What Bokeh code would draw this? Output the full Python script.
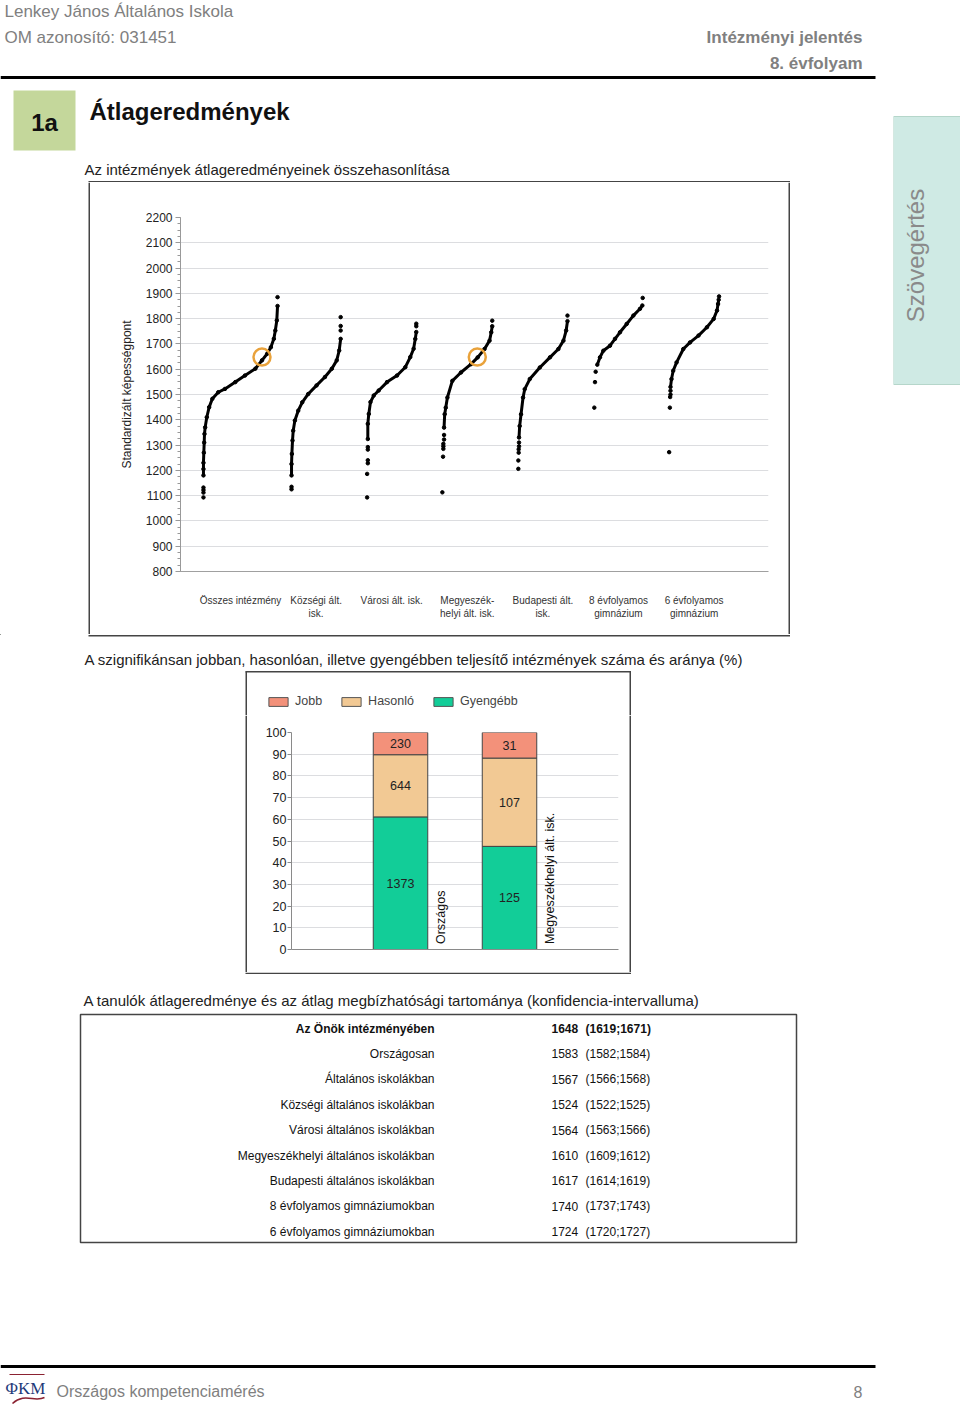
import math
from bokeh.plotting import figure
from bokeh.models import (Range1d, SingleIntervalTicker, FixedTicker, Legend, LegendItem, ColumnDataSource)
from bokeh.layouts import column, row
from bokeh.embed import file_html
from bokeh.resources import INLINE
from bokeh.core.properties import value

FONT = "Liberation Sans"

# ---------------- texts ----------------
school_name = "Lenkey János Általános Iskola"
om_id = "OM azonosító: 031451"
report_name = "Intézményi jelentés"
grade = "8. évfolyam"
section_no = "1a"
section_title = "Átlageredmények"
sub1 = "Az intézmények átlageredményeinek összehasonlítása"
sub2 = "A szignifikánsan jobban, hasonlóan, illetve gyengébben teljesítő intézmények száma és aránya (%)"
sub3 = "A tanulók átlageredménye és az átlag megbízhatósági tartománya (konfidencia-intervalluma)"
footer_text = "Országos kompetenciamérés"
logo_text = "ΦKM"
page_no = "8"
side_tab = "Szövegértés"

# ---------------- scatter data (rank fraction within group, score) ----------------
groups = ["Összes intézmény", "Községi ált.\nisk.", "Városi ált. isk.", "Megyeszék-\nhelyi ált. isk.",
          "Budapesti ált.\nisk.", "8 évfolyamos\ngimnázium", "6 évfolyamos\ngimnázium"]
y_axis_title = "Standardizált képességpont"

osszes_curve = [(0.0, 1180), (0.0, 1205), (0.0, 1230), (0.005, 1270), (0.01, 1310), (0.014, 1344),
                (0.023, 1370), (0.045, 1410), (0.077, 1450), (0.12, 1483), (0.2, 1509), (0.29, 1522),
                (0.43, 1549), (0.56, 1575), (0.7, 1602), (0.79, 1635), (0.86, 1661), (0.91, 1687),
                (0.95, 1720), (0.97, 1753), (0.99, 1793), (1.0, 1850)]
osszes_out = [(0.0, 1093), (0.0, 1112), (0.0, 1122), (0.0, 1132), (1.0, 1885)]

kozsegi_curve = [(0.0, 1180), (0.0, 1225), (0.007, 1265), (0.02, 1318), (0.034, 1357), (0.068, 1397),
                 (0.136, 1436), (0.218, 1469), (0.34, 1502), (0.51, 1536), (0.68, 1569), (0.82, 1602),
                 (0.92, 1635), (0.97, 1674), (1.0, 1720)]
kozsegi_out = [(0.0, 1125), (0.0, 1135), (1.0, 1753), (1.0, 1771), (1.0, 1806)]

varosi_curve = [(0.014, 1324), (0.014, 1384), (0.034, 1423), (0.068, 1470), (0.135, 1496), (0.236, 1516),
                (0.405, 1549), (0.608, 1575), (0.777, 1608), (0.878, 1648), (0.946, 1681), (0.98, 1720),
                (1.0, 1747)]
varosi_out = [(0.0, 1093), (0.0, 1186), (0.014, 1228), (0.014, 1240), (0.014, 1282), (0.014, 1292),
              (1.0, 1770), (1.0, 1780)]

megyei_curve = [(0.034, 1369), (0.047, 1422), (0.068, 1448), (0.101, 1488), (0.2, 1554), (0.372, 1587),
                (0.574, 1620), (0.709, 1647), (0.845, 1680), (0.946, 1713), (0.98, 1746), (1.0, 1770)]
megyei_out = [(0.0, 1113), (0.014, 1254), (0.02, 1285), (0.02, 1295), (0.02, 1305), (0.034, 1322),
              (0.034, 1340), (1.0, 1792)]

budapest_curve = [(0.014, 1330), (0.027, 1375), (0.055, 1422), (0.096, 1488), (0.13, 1521), (0.233, 1561),
                  (0.438, 1607), (0.644, 1647), (0.815, 1680), (0.918, 1713), (0.973, 1753), (1.0, 1790)]
budapest_out = [(0.0, 1206), (0.0, 1239), (0.007, 1270), (0.007, 1283), (0.014, 1295), (0.014, 1310),
                (1.0, 1812)]

gimn8_curve = [(0.062, 1618), (0.117, 1647), (0.186, 1673), (0.324, 1693), (0.428, 1720), (0.531, 1746),
               (0.669, 1779), (0.807, 1812), (0.945, 1839), (0.993, 1852)]
gimn8_out = [(0.0, 1448), (0.014, 1549), (0.028, 1590), (1.0, 1882)]

gimn6_curve = [(0.027, 1530), (0.047, 1561), (0.081, 1594), (0.149, 1627), (0.284, 1680), (0.419, 1706),
               (0.588, 1733), (0.757, 1766), (0.892, 1799), (0.959, 1832), (0.98, 1858), (0.993, 1875)]
gimn6_out = [(0.0, 1272), (0.014, 1448), (0.02, 1490), (0.027, 1500), (0.027, 1515), (1.0, 1888)]

school_groups = [0, 3]
school_ranks = [0.79, 0.70]
school_score = 1648

# ---------------- bar data ----------------
bar_cats = ["Országos", "Megyeszékhelyi ált. isk."]
legend_names = ["Jobb", "Hasonló", "Gyengébb"]
jobb = [230, 31]
hasonlo = [644, 107]
gyengebb = [1373, 125]

# ---------------- table data ----------------
tbl_labels = ["Az Önök intézményében", "Országosan", "Általános iskolákban", "Községi általános iskolákban",
              "Városi általános iskolákban", "Megyeszékhelyi általános iskolákban",
              "Budapesti általános iskolákban", "8 évfolyamos gimnáziumokban", "6 évfolyamos gimnáziumokban"]
tbl_mean = [1648, 1583, 1567, 1524, 1564, 1610, 1617, 1740, 1724]
tbl_lo = [1619, 1582, 1566, 1522, 1563, 1609, 1614, 1737, 1720]
tbl_hi = [1671, 1584, 1568, 1525, 1566, 1612, 1619, 1743, 1727]

# ---------------- styles ----------------
GROUP_SPREAD = [0.98, 0.65, 0.65, 0.66, 0.65, 0.64, 0.66]
C_JOBB = "#f3917a"
C_HAS = "#f2c994"
C_GY = "#12cd98"
GRAY_TXT = "#808080"
BOX_C = "#444444"
BOX_W = 1.5
LEFT_W = 893
RIGHT_W = 67


def page(width, height, x0, y0):
    p = figure(width=width, height=height, x_range=Range1d(x0, x0 + width),
               y_range=Range1d(y0 + height, y0), x_axis_location=None, y_axis_location=None,
               output_backend="svg", toolbar_location=None, min_border=0, frame_align=False)
    p.outline_line_color = None
    p.grid.visible = False
    return p


def put(p, x, y, s, size, color="#222222", bold=False, align="left", angle=0.0, font=FONT):
    p.text(x=[x], y=[y], text=[s], angle=angle, text_font=value(font), text_font_size=f"{size}px",
           text_color=color, text_font_style="bold" if bold else "normal",
           text_align=align, text_baseline="middle")


def hline(p, x0, x1, y, w=BOX_W, c=BOX_C):
    p.line(x=[x0, x1], y=[y, y], line_width=w, line_color=c)


def vline(p, x, y0, y1, w=BOX_W, c=BOX_C):
    p.line(x=[x, x], y=[y0, y1], line_width=w, line_color=c)


# ---------------- header ----------------
hdr = page(LEFT_W, 182, 0, 0)
put(hdr, 4, 11, school_name, 17, GRAY_TXT)
put(hdr, 4, 37, om_id, 17, GRAY_TXT)
put(hdr, 862, 37, report_name, 17, GRAY_TXT, bold=True, align="right")
put(hdr, 862, 63, grade, 17, GRAY_TXT, bold=True, align="right")
hline(hdr, 0, 875, 77, w=3, c="black")
hdr.quad(left=13, right=75, top=90, bottom=150, fill_color="#c4d79b", line_color=None)
put(hdr, 44, 122, section_no, 24, "#111111", bold=True, align="center")
put(hdr, 89, 111, section_title, 24, "#111111", bold=True)
put(hdr, 84, 169, sub1, 15, "#222222")
hline(hdr, 88, 789.5, 181.25)

# ---------------- scatter ----------------
px_per_unit = 75.6
x_lo = -60 / px_per_unit
x_hi = x_lo + 588 / px_per_unit
sc = figure(width=697, height=452, x_range=Range1d(x_lo, x_hi), y_range=Range1d(800, 2200),
            output_backend="svg", toolbar_location=None, frame_align=False,
            min_border_left=90, min_border_right=19, min_border_top=35, min_border_bottom=63)
sc.outline_line_color = None
sc.xgrid.visible = False
yt = SingleIntervalTicker(interval=100, num_minor_ticks=4)
sc.yaxis.ticker = yt
sc.ygrid.ticker = yt
sc.ygrid.grid_line_color = "#dcdde0"
sc.ygrid.grid_line_width = 1.2
sc.yaxis.axis_line_color = "#999999"
sc.yaxis.major_tick_line_color = "#999999"
sc.yaxis.minor_tick_line_color = "#999999"
sc.yaxis.major_tick_out = 5
sc.yaxis.major_tick_in = 0
sc.yaxis.minor_tick_out = 3
sc.yaxis.minor_tick_in = 0
sc.yaxis.major_label_standoff = 3
sc.yaxis.major_label_text_font = FONT
sc.yaxis.major_label_text_font_size = "12px"
sc.yaxis.major_label_text_color = "#222222"
sc.yaxis.axis_label = y_axis_title
sc.yaxis.axis_label_text_font = FONT
sc.yaxis.axis_label_text_font_size = "12px"
sc.yaxis.axis_label_text_font_style = "normal"
sc.yaxis.axis_label_text_color = "#222222"
sc.yaxis.axis_label_standoff = 9
sc.xaxis.ticker = FixedTicker(ticks=list(range(len(groups))))
sc.xaxis.major_label_overrides = {i: g for i, g in enumerate(groups)}
sc.xaxis.axis_line_color = "#a0a0a0"
sc.xaxis.axis_line_width = 1.2
sc.xaxis.major_tick_line_color = None
sc.xaxis.minor_tick_line_color = None
sc.xaxis.major_label_standoff = 17
sc.xaxis.major_label_text_font = FONT
sc.xaxis.major_label_text_font_size = "10px"
sc.xaxis.major_label_text_color = "#333333"

curves = [osszes_curve, kozsegi_curve, varosi_curve, megyei_curve, budapest_curve, gimn8_curve, gimn6_curve]
outs = [osszes_out, kozsegi_out, varosi_out, megyei_out, budapest_out, gimn8_out, gimn6_out]


def gx(g, r):
    return g + (r - 0.5) * GROUP_SPREAD[g]


xs, ys, px, py = [], [], [], []
for g, (cv, ot) in enumerate(zip(curves, outs)):
    xs.append([gx(g, r) for r, s in cv])
    ys.append([s for r, s in cv])
    for r, s in cv + ot:
        px.append(gx(g, r))
        py.append(s)
sc.multi_line(xs=xs, ys=ys, line_color="black", line_width=3)
sc.scatter(x=px, y=py, size=3.5, color="black")
sc.scatter(x=[gx(g, r) for g, r in zip(school_groups, school_ranks)], y=[school_score] * len(school_groups),
           size=17, fill_color=None, line_color="#e9a23b", line_width=2.5)

scL = page(90, 452, 0, 182)
vline(scL, 88.75, 182, 634)
scR = page(106, 452, 787, 182)
vline(scR, 788.75, 182, 634)

# ---------------- text between + legend ----------------
mid1 = page(LEFT_W, 81, 0, 634)
hline(mid1, 88, 789.5, 635.25)
put(mid1, 84, 659, sub2, 15, "#222222")
hline(mid1, 245, 630.5, 671.25)
vline(mid1, 245.75, 671, 715)
vline(mid1, 629.75, 671, 715)
leg_colors = [C_JOBB, C_HAS, C_GY]
leg_r = [mid1.vbar(x=[-5000], top=[-5000], bottom=[-5001], width=1, fill_color=c,
                   line_color="#555555", line_width=1)
         for c in leg_colors]
leg = Legend(items=[LegendItem(label=n, renderers=[r]) for n, r in zip(legend_names, leg_r)],
             orientation="horizontal", location=(266, 7), glyph_width=24, glyph_height=11,
             label_standoff=5, spacing=17, padding=0, margin=0, border_line_color=None,
             background_fill_alpha=0, label_text_font=FONT, label_text_font_size="12.5px",
             label_height=11)
mid1.add_layout(leg)

# ---------------- bar chart ----------------
tot = [a + b + c for a, b, c in zip(jobb, hasonlo, gyengebb)]
p_gy = [v / t * 100 for v, t in zip(gyengebb, tot)]
p_ha = [v / t * 100 for v, t in zip(hasonlo, tot)]
p_jo = [v / t * 100 for v, t in zip(jobb, tot)]
bx = [1, 2]
src = ColumnDataSource(dict(x=bx, gy=p_gy, ha=p_ha, jo=p_jo))

bc = figure(width=381, height=257, x_range=Range1d(0, 3), y_range=Range1d(0, 100),
            output_backend="svg", toolbar_location=None, frame_align=False,
            min_border_left=44, min_border_right=10, min_border_top=17, min_border_bottom=23)
bc.outline_line_color = None
bc.xgrid.visible = False
bt = SingleIntervalTicker(interval=10, num_minor_ticks=0)
bc.yaxis.ticker = bt
bc.ygrid.ticker = bt
bc.ygrid.grid_line_color = "#dcdde0"
bc.yaxis.axis_line_color = "#8a8a8a"
bc.yaxis.major_tick_line_color = "#8a8a8a"
bc.yaxis.major_tick_out = 4
bc.yaxis.major_tick_in = 0
bc.yaxis.minor_tick_line_color = None
bc.yaxis.major_label_standoff = 1
bc.yaxis.major_label_text_font = FONT
bc.yaxis.major_label_text_font_size = "12.5px"
bc.yaxis.major_label_text_color = "#222222"
bc.xaxis.ticker = FixedTicker(ticks=[])
bc.xaxis.axis_line_color = "#8a8a8a"
bc.xaxis.major_tick_line_color = None
bc.xaxis.minor_tick_line_color = None

rs = bc.vbar_stack(["gy", "ha", "jo"], x="x", width=0.5, source=src,
                   fill_color=[C_GY, C_HAS, C_JOBB], line_color="#444444", line_width=1)
mid_gy = [v / 2 for v in p_gy]
mid_ha = [a + b / 2 for a, b in zip(p_gy, p_ha)]
mid_jo = [a + b + c / 2 for a, b, c in zip(p_gy, p_ha, p_jo)]
bc.text(x=bx * 3, y=mid_gy + mid_ha + mid_jo, text=[str(v) for v in gyengebb + hasonlo + jobb],
        text_font=value(FONT), text_font_size="12.5px", text_color="#222222",
        text_align="center", text_baseline="middle")
bc.text(x=[v + 0.367 for v in bx], y=[2.5, 2.5], text=bar_cats, angle=math.pi / 2,
        text_font=value(FONT), text_font_size="12.5px", text_color="#111111",
        text_align="left", text_baseline="middle")

bcL = page(247, 257, 0, 715)
vline(bcL, 245.75, 715, 972)
bcR = page(265, 257, 628, 715)
vline(bcR, 629.75, 715, 972)

# ---------------- text between ----------------
mid2 = page(LEFT_W, 38, 0, 972)
hline(mid2, 245, 630.5, 972.75)
put(mid2, 83, 1000, sub3, 15, "#222222")

# ---------------- table ----------------
tb = page(LEFT_W, 236, 0, 1010)
tb.quad(left=80, right=796, top=1014, bottom=1242, fill_color=None, line_color=BOX_C, line_width=BOX_W)
row_y = [1028 + 25.4 * i for i in range(len(tbl_labels))]
for i, (lab, m, lo, hi) in enumerate(zip(tbl_labels, tbl_mean, tbl_lo, tbl_hi)):
    b = (i == 0)
    put(tb, 434, row_y[i], lab, 12, "#111111", bold=b, align="right")
    put(tb, 551, row_y[i], str(m), 12, "#111111", bold=b)
    put(tb, 585, row_y[i], f"({lo};{hi})", 12, "#111111", bold=b)

# ---------------- footer ----------------
ft = page(LEFT_W, 159, 0, 1246)
hline(ft, 0, 875, 1366, w=3, c="black")
hline(ft, 9, 44, 1374, w=1.2, c="#8b2232")
ft.bezier(x0=[12], y0=[1403], x1=[44], y1=[1397], cx0=[24], cy0=[1392], cx1=[34], cy1=[1402],
          line_color="#8b2232", line_width=1.5)
put(ft, 5, 1388, logo_text, 17, "#1f3b7a", font="Liberation Serif")
put(ft, 56, 1391, footer_text, 16, GRAY_TXT)
put(ft, 862, 1391, page_no, 16, GRAY_TXT, align="right")

# ---------------- right tab ----------------
rt = page(RIGHT_W, 1405, 893, 0)
rt.quad(left=893, right=961, top=116, bottom=384, fill_color="#cfeae4", line_color="#b5d6ca", line_width=1)
put(rt, 915, 255, side_tab, 24, "#8a8a8a", align="center", angle=math.pi / 2)

left = column(hdr, row(scL, sc, scR, spacing=0), mid1, row(bcL, bc, bcR, spacing=0), mid2, tb, ft,
              spacing=0)
layout = row(left, rt, spacing=0)

open("out.html", "w").write(file_html(layout, INLINE))
